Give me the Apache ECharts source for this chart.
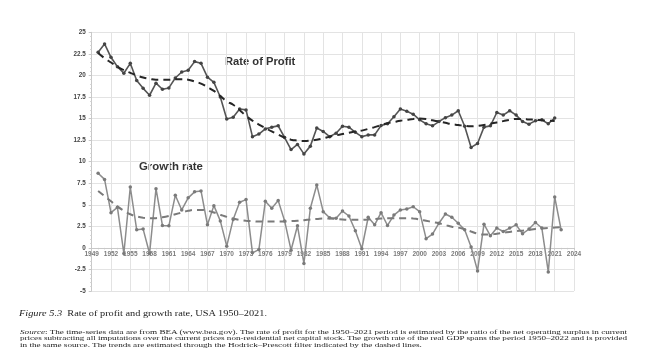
<!DOCTYPE html>
<html><head><meta charset="utf-8">
<script src="https://cdn.jsdelivr.net/npm/echarts/dist/echarts.min.js"></script>
<style>
html,body{margin:0;padding:0;background:#fff;width:650px;height:363px;overflow:hidden;}
#chart{position:absolute;left:0;top:0;width:650px;height:363px;}
.cap{position:absolute;white-space:nowrap;font-family:"Liberation Serif","Times New Roman",serif;color:#222;transform-origin:0 0;}
</style>
</head><body>
<div id="chart"></div>
<div class="cap" id="c0" style="left:19px;top:309px;font-size:8px;line-height:10px;"><i>Figure 5.3</i>&nbsp; Rate of profit and growth rate, USA 1950–2021.</div>
<div class="cap" id="s1" style="left:20px;top:328.8px;font-size:6.8px;line-height:6.6px;"><i>Source</i>: The time-series data are from BEA (www.bea.gov). The rate of profit for the 1950–2021 period is estimated by the ratio of the net operating surplus in current</div>
<div class="cap" id="s2" style="left:20px;top:335.2px;font-size:6.8px;line-height:6.6px;">prices subtracting all imputations over the current prices non-residential net capital stock. The growth rate of the real GDP spans the period 1950–2022 and is provided</div>
<div class="cap" id="s3" style="left:20px;top:341.6px;font-size:6.8px;line-height:6.6px;">in the same source. The trends are estimated through the Hodrick–Prescott filter indicated by the dashed lines.</div>
<script>
// ---- data ----
const profitYears = [1950,1951,1952,1953,1954,1955,1956,1957,1958,1959,1960,1961,1962,1963,1964,1965,1966,1967,1968,1969,1970,1971,1972,1973,1974,1975,1976,1977,1978,1979,1980,1981,1982,1983,1984,1985,1986,1987,1988,1989,1990,1991,1992,1993,1994,1995,1996,1997,1998,1999,2000,2001,2002,2003,2004,2005,2006,2007,2008,2009,2010,2011,2012,2013,2014,2015,2016,2017,2018,2019,2020,2021];
const profitRate = [22.7,23.65,22.1,21.0,20.25,21.4,19.4,18.5,17.7,19.1,18.4,18.55,19.7,20.4,20.6,21.6,21.4,19.8,19.2,17.5,14.95,15.15,16.1,16.0,12.9,13.2,13.8,14.0,14.15,12.8,11.4,12.0,10.9,11.8,13.9,13.5,12.9,13.3,14.1,14.0,13.4,12.9,13.1,13.1,14.2,14.4,15.2,16.1,15.85,15.5,14.85,14.4,14.15,14.65,15.1,15.4,15.9,14.1,11.65,12.1,14.0,14.15,15.7,15.4,15.9,15.4,14.65,14.35,14.75,14.85,14.4,15.05];
const profitTrend = [22.6,22.0,21.5,21.0,20.6,20.3,20.0,19.75,19.6,19.5,19.5,19.5,19.55,19.55,19.5,19.3,19.05,18.65,18.2,17.6,17.0,16.6,16.0,15.3,14.75,14.3,13.9,13.5,13.15,12.8,12.55,12.45,12.4,12.45,12.55,12.7,12.9,13.05,13.2,13.35,13.5,13.6,13.8,14.0,14.25,14.45,14.6,14.75,14.85,14.95,15.0,14.95,14.8,14.65,14.5,14.35,14.25,14.15,14.1,14.15,14.25,14.4,14.55,14.7,14.85,14.95,14.95,14.9,14.85,14.8,14.75,14.7];
const growthYears = [1950,1951,1952,1953,1954,1955,1956,1957,1958,1959,1960,1961,1962,1963,1964,1965,1966,1967,1968,1969,1970,1971,1972,1973,1974,1975,1976,1977,1978,1979,1980,1981,1982,1983,1984,1985,1986,1987,1988,1989,1990,1991,1992,1993,1994,1995,1996,1997,1998,1999,2000,2001,2002,2003,2004,2005,2006,2007,2008,2009,2010,2011,2012,2013,2014,2015,2016,2017,2018,2019,2020,2021,2022];
const growthRate = [8.66,7.94,4.08,4.7,-0.65,7.06,2.1,2.18,-0.65,6.87,2.6,2.56,6.1,4.4,5.8,6.5,6.6,2.67,4.9,3.13,0.2,3.3,5.3,5.6,-0.57,-0.2,5.4,4.6,5.5,3.13,-0.27,2.56,-1.8,4.6,7.3,4.2,3.5,3.45,4.27,3.7,1.98,-0.1,3.55,2.67,4.08,2.6,3.8,4.4,4.5,4.77,4.2,1.07,1.6,2.86,3.93,3.55,2.86,2.1,0.1,-2.67,2.75,1.4,2.3,1.9,2.3,2.67,1.64,2.18,2.94,2.3,-2.79,5.9,2.1];
const growthTrend = [6.6,6.0,5.4,4.8,4.3,3.9,3.65,3.5,3.45,3.45,3.55,3.7,3.9,4.1,4.3,4.4,4.4,4.3,4.1,3.85,3.6,3.4,3.25,3.15,3.1,3.05,3.05,3.05,3.05,3.05,3.1,3.15,3.2,3.3,3.35,3.4,3.4,3.35,3.3,3.25,3.25,3.25,3.3,3.35,3.4,3.45,3.45,3.45,3.45,3.4,3.3,3.15,3.0,2.85,2.65,2.45,2.35,2.15,1.9,1.65,1.55,1.55,1.65,1.75,1.85,1.95,2.0,2.1,2.2,2.25,2.3,2.35,2.4];
const labelProfit = 'Rate of Profit';
const labelGrowth = 'Growth rate';

const pairs = (xs, ys) => xs.map((x, i) => [x, ys[i]]);

const chart = echarts.init(document.getElementById('chart'), null, {renderer: 'canvas'});
chart.setOption({
  animation: false,
  backgroundColor: '#fff',
  grid: {left: 91.7, right: 76, top: 32.3, bottom: 72, containLabel: false},
  xAxis: {
    type: 'value', min: 1949, max: 2024, interval: 3, position: 'bottom', offset: 0,
    axisLine: {show: true, onZero: false, lineStyle: {color: '#c8c8c8', width: 1}},
    axisTick: {show: true, length: 2, lineStyle: {color: '#c8c8c8'}},
    minorTick: {show: true, splitNumber: 3, length: 1.5, lineStyle: {color: '#c8c8c8'}},
    axisLabel: {formatter: v => String(v), fontSize: 6.5, color: '#7a7a7a', fontWeight: 'bold', margin: 3, fontFamily: 'Liberation Sans'},
    splitLine: {show: true, lineStyle: {color: '#e3e3e3', width: 1}}
  },
  yAxis: {
    type: 'value', min: -5, max: 25, interval: 2.5,
    axisLine: {show: true, onZero: false, lineStyle: {color: '#c8c8c8', width: 1}},
    axisTick: {show: true, length: 3, lineStyle: {color: '#c8c8c8'}},
    minorTick: {show: true, splitNumber: 5, length: 1.5, lineStyle: {color: '#cfcfcf'}},
    axisLabel: {fontSize: 6.3, color: '#444', fontWeight: 'bold', margin: 6, fontFamily: 'Liberation Sans'},
    splitLine: {show: true, lineStyle: {color: '#e3e3e3', width: 1}}
  },
  series: [
    {type: 'line', data: pairs(growthYears, growthRate), symbol: 'circle', symbolSize: 3.5,
     lineStyle: {color: '#8c8c8c', width: 1.5}, itemStyle: {color: '#7a7a7a'}, z: 2},
    {type: 'line', data: pairs(growthYears, growthTrend), symbol: 'none', smooth: true,
     lineStyle: {color: '#7a7a7a', width: 2, type: [7, 5]}, z: 3},
    {type: 'line', data: pairs(profitYears, profitRate), symbol: 'circle', symbolSize: 3.5,
     lineStyle: {color: '#555', width: 1.6}, itemStyle: {color: '#444'}, z: 4},
    {type: 'line', data: pairs(profitYears, profitTrend), symbol: 'none', smooth: true,
     lineStyle: {color: '#262626', width: 2, type: [7, 5]}, z: 5}
  ],
  graphic: [
    {type: 'text', left: 225, top: 56.5, style: {text: labelProfit, font: 'bold 11.2px "Liberation Sans"', fill: '#333'}},
    {type: 'text', left: 139, top: 161.5, style: {text: labelGrowth, font: 'bold 11.4px "Liberation Sans"', fill: '#333'}}
  ]
});

// move the x axis (line and labels) up to the y = 0 line, using the y axis scale
const yBottom = chart.convertToPixel({yAxisIndex: 0}, -5);
const yZero = chart.convertToPixel({yAxisIndex: 0}, 0);
chart.setOption({xAxis: {offset: -(yBottom - yZero)}});

// fit caption lines to the stretched widths of the reference
function fit(id, target){
  const el = document.getElementById(id);
  const w = el.getBoundingClientRect().width;
  const s = target / w;
  el.style.transform = 'scaleX(' + s + ')';
  return s;
}
fit('c0', 248);
const s1 = fit('s1', 607);
fit('s2', 607);
document.getElementById('s3').style.transform = 'scaleX(' + s1 + ')';
</script>
</body></html>
